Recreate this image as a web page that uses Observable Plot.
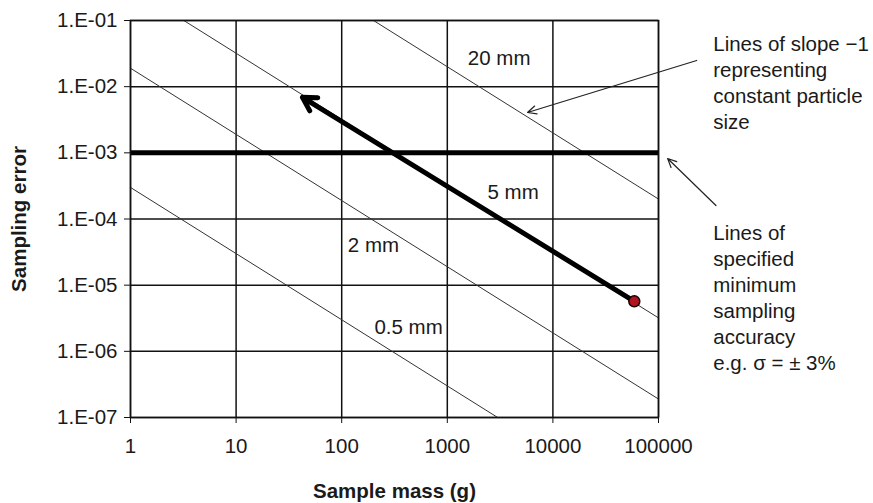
<!DOCTYPE html>
<html>
<head>
<meta charset="utf-8">
<script src="https://cdn.jsdelivr.net/npm/d3@7"></script>
<script src="https://cdn.jsdelivr.net/npm/@observablehq/plot@0.6"></script>
<style>
  html, body { margin: 0; padding: 0; background: #fff; }
  #chart svg { display: block; }
</style>
</head>
<body>
<div id="chart"></div>
<script>
// Axis ticks
const xTicks = [1, 10, 100, 1000, 10000, 100000];
const xTickLabels = ["1", "10", "100", "1000", "10000", "100000"];
const yTicks = [1e-7, 1e-6, 1e-5, 1e-4, 1e-3, 1e-2, 1e-1];
const yTickLabels = ["1.E-07", "1.E-06", "1.E-05", "1.E-04", "1.E-03", "1.E-02", "1.E-01"];

// Constant particle size lines (slope -1): sampling error at 1 g sample mass
const particleSizes = ["0.5 mm", "2 mm", "5 mm", "20 mm"];
const errorAt1g = [3e-4, 0.019, 0.32, 20];
// Where each size label sits (sample mass, sampling error)
const labelMass = [430, 200, 4200, 3100];
const labelError = [2.3e-6, 4.0e-5, 2.55e-4, 0.0267];

// Specified minimum sampling accuracy
const minAccuracy = 1e-3;

// Sample reduction path: start point (dot) and end point (arrow tip)
const pathMass = [59000, 42.5];
const pathError = [5.7e-6, 6.9e-3];

// Side notes and their pointers
const noteText = [
  "Lines of slope \u22121\nrepresenting\nconstant particle\nsize",
  "Lines of\nspecified\nminimum\nsampling\naccuracy\ne.g. \u03c3 = \u00b1 3%"
];
const noteMass = [3.3e5, 3.3e5];
const noteError = [0.0118, 6.7e-6];
const pointerFromMass = [2.3e5, 3.5e5];
const pointerFromError = [0.0249, 1.6e-4];
const pointerToMass = [5750, 1.22e5];
const pointerToError = [4.07e-3, 8.2e-4];

const xDomain = [1, 100000];

const xLabelOf = new Map(xTicks.map((v, i) => [v, xTickLabels[i]]));
const yLabelOf = new Map(yTicks.map((v, i) => [v, yTickLabels[i]]));

const sizeLines = particleSizes.flatMap((name, i) =>
  xDomain.map(m => ({name, mass: m, error: errorAt1g[i] / m}))
);
const sizeLabels = particleSizes.map((name, i) => ({name, mass: labelMass[i], error: labelError[i]}));
const notes = noteText.map((t, i) => ({t, mass: noteMass[i], error: noteError[i]}));
const pointers = noteText.map((t, i) => ({
  x1: pointerFromMass[i], y1: pointerFromError[i], x2: pointerToMass[i], y2: pointerToError[i]
}));
const path = [{x1: pathMass[0], y1: pathError[0], x2: pathMass[1], y2: pathError[1]}];

const font = "'Liberation Sans', Arial, Helvetica, sans-serif";
const fs = 20.5;

const chart = Plot.plot({
  width: 873,
  height: 503,
  marginLeft: 130,
  marginRight: 215,
  marginTop: 20,
  marginBottom: 86,
  style: {fontFamily: font, fontSize: fs + "px", color: "#1a1a1a", background: "#fff"},
  x: {type: "log", domain: xDomain},
  y: {type: "log", domain: [1e-7, 1e-1]},
  marks: [
    Plot.gridX(xTicks, {stroke: "#111", strokeOpacity: 1, strokeWidth: 1.5}),
    Plot.gridY(yTicks, {stroke: "#111", strokeOpacity: 1, strokeWidth: 1.5}),
    Plot.line(sizeLines, {x: "mass", y: "error", z: "name", stroke: "#333", strokeWidth: 1, clip: true}),
    Plot.ruleY([minAccuracy], {stroke: "#000", strokeWidth: 5}),
    Plot.arrow(path, {x1: "x1", y1: "y1", x2: "x2", y2: "y2", stroke: "#000", strokeWidth: 5, headLength: 4.6, headAngle: 60}),
    Plot.dot([{mass: pathMass[0], error: pathError[0]}], {x: "mass", y: "error", r: 5.5, fill: "#b0141c", stroke: "#1a0000", strokeWidth: 1.5}),
    Plot.text(sizeLabels, {x: "mass", y: "error", text: "name", fill: "#1a1a1a", fontSize: fs}),
    Plot.frame({stroke: "#111", strokeWidth: 1.5}),
    Plot.axisX(xTicks, {tickFormat: d => xLabelOf.get(d), tickSize: 6, tickPadding: 15, label: null, stroke: "#111", fill: "#1a1a1a", fontSize: fs}),
    Plot.axisY(yTicks, {tickFormat: d => yLabelOf.get(d), tickSize: 6, tickPadding: 7, label: null, stroke: "#111", fill: "#1a1a1a", fontSize: fs}),
    Plot.text(["Sample mass (g)"], {frameAnchor: "bottom", dy: 80, fontWeight: "bold", fontSize: fs}),
    Plot.text(["Sampling error"], {frameAnchor: "left", dx: -111, rotate: -90, textAnchor: "middle", fontWeight: "bold", fontSize: fs}),
    Plot.arrow(pointers, {x1: "x1", y1: "y1", x2: "x2", y2: "y2", stroke: "#222", strokeWidth: 1.2, headLength: 12, headAngle: 50}),
    Plot.text(notes, {x: "mass", y: "error", text: "t", textAnchor: "start", lineAnchor: "middle", lineHeight: 1.26, fontSize: fs, fill: "#1a1a1a"})
  ]
});

document.getElementById("chart").appendChild(chart);
</script>
</body>
</html>
